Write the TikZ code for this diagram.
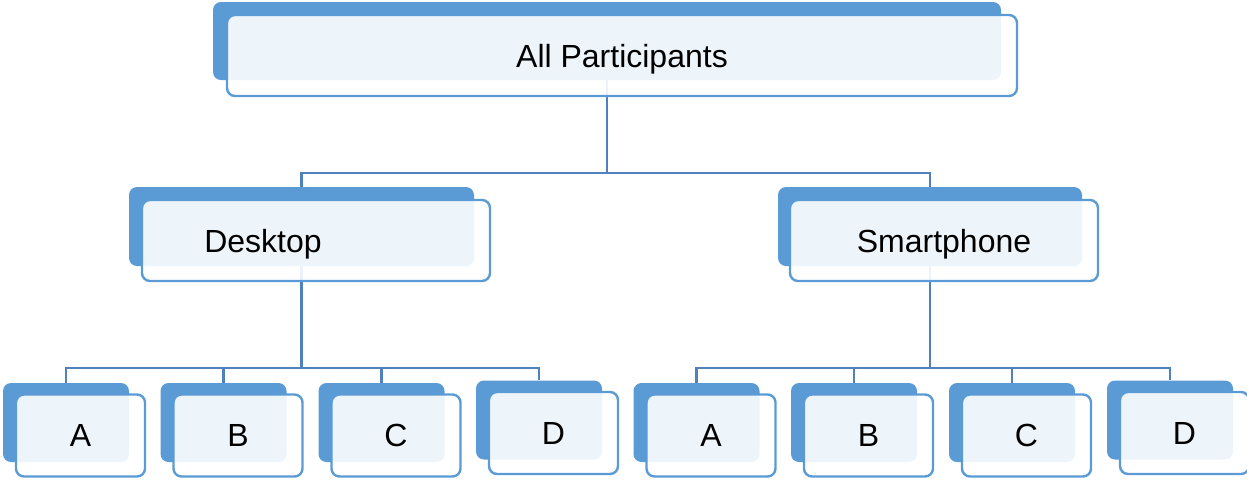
\documentclass[tikz,border=0pt]{standalone}
\usepackage{fontspec}
\setmainfont{Liberation Sans}
\usetikzlibrary{backgrounds}
\definecolor{boxblue}{RGB}{91,155,213}
\definecolor{linkblue}{RGB}{79,129,189}
\tikzset{
  backbox/.style={draw=none, fill=boxblue, rounded corners=4pt, inner sep=0pt},
  frontbox/.style={draw=boxblue, line width=1.2pt, fill=white, fill opacity=0.9,
    text opacity=1, rounded corners=4pt, inner sep=0pt},
  link/.style={draw=linkblue, line width=1.3pt},
  lbl/.style={font=\fontsize{16}{19}\selectfont, text=black, text depth=0pt}
}
% leaf: name, centre of the back plate (x, y), letter
\newcommand\leafpair[4]{%
  \node[backbox, minimum width=63pt, minimum height=39.5pt] (#1b) at (#2,#3) {};
  \node[frontbox, lbl, minimum width=64.5pt, minimum height=41pt,
    xshift=7.25pt, yshift=-6.5pt] (#1) at (#2,#3) {#4};
}
\begin{document}
\begin{tikzpicture}[x=0.5pt, y=-0.5pt]
\useasboundingbox (0,0) rectangle (1247,479);

% root
\node[backbox, minimum width=394pt, minimum height=39pt] (allb) at (607,41) {};
\node[frontbox, lbl, minimum width=395pt, minimum height=40.5pt] (all) at (622,55.5) {All Participants};

% second level
\node[backbox, minimum width=172.5pt, minimum height=39.5pt] (deskb) at (301.5,226.5) {};
\node[frontbox, minimum width=174pt, minimum height=40.5pt] (desk) at (316,240.5) {};
\node[lbl] (deskt) at (263,240.5) {Desktop};

\node[backbox, minimum width=152pt, minimum height=39.5pt] (smartb) at (930,226.5) {};
\node[frontbox, lbl, minimum width=154pt, minimum height=40.5pt] (smart) at (944,240.5) {Smartphone};

% third level
\leafpair{da}{66}{422.5}{A}
\leafpair{db}{223.5}{422.5}{B}
\leafpair{dc}{381.5}{422.5}{C}
\leafpair{dd}{539}{420}{D}
\leafpair{sa}{696.5}{422.5}{A}
\leafpair{sb}{854}{422.5}{B}
\leafpair{sc}{1012}{422.5}{C}
\leafpair{sd}{1170}{420}{D}

% connectors
\coordinate (bustop) at (607,173);
\coordinate (busdesk) at (301.5,368);
\coordinate (bussmart) at (930,368);
\begin{scope}[on background layer]
  \draw[link] (allb.south) -- (bustop);
  \draw[link] (deskb.north) |- (bustop) -| (smartb.north);

  \draw[link] (deskb.south) -- (busdesk);
  \draw[link] (dab.north) |- (busdesk) -| (ddb.north);
  \draw[link] (dbb.north) -- (dbb.north |- busdesk);
  \draw[link] (dcb.north) -- (dcb.north |- busdesk);

  \draw[link] (smartb.south) -- (bussmart);
  \draw[link] (sab.north) |- (bussmart) -| (sdb.north);
  \draw[link] (sbb.north) -- (sbb.north |- bussmart);
  \draw[link] (scb.north) -- (scb.north |- bussmart);
\end{scope}
\end{tikzpicture}
\end{document}
